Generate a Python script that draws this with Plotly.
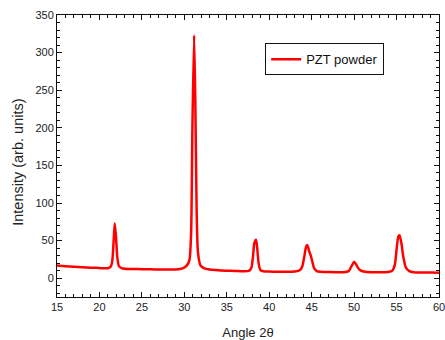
import plotly.graph_objects as go

angle = [15, 16, 17, 18, 19, 20, 21, 21.3, 21.5, 21.65, 21.8, 21.95, 22.1, 22.3, 22.6, 23,
         24, 25, 26, 27, 28, 29, 29.8, 30.3, 30.6, 30.8, 30.95, 31.15, 31.3, 31.45, 31.6,
         31.9, 32.3, 33, 34, 35, 36, 37, 37.6, 37.9, 38.1, 38.25, 38.45, 38.6, 38.75, 38.95,
         39.3, 40, 41, 42, 43, 43.6, 43.9, 44.15, 44.35, 44.5, 44.7, 44.9, 45.1, 45.3, 45.6,
         46, 47, 48, 49, 49.4, 49.7, 49.9, 50.0, 50.2, 50.45, 50.8, 51.3, 52, 53, 54, 54.5,
         54.8, 55.0, 55.2, 55.35, 55.55, 55.8, 56.1, 56.5, 57, 58, 59, 60]
intensity = [16.8, 16.0, 15.3, 14.6, 14.0, 13.5, 13.3, 15, 22, 45, 73, 55, 28, 16, 13.5, 12.6,
             12.2, 12.0, 11.8, 11.6, 11.5, 11.6, 13, 17, 24, 60, 200, 323, 230, 90, 35,
             17, 13.5, 11.5, 10.5, 10.0, 9.6, 9.3, 9.8, 14, 30, 47, 51, 38, 20, 11,
             9.3, 8.8, 8.5, 8.5, 8.8, 10.5, 16, 30, 42, 44, 36, 30, 21, 13, 9.5,
             8.5, 8.2, 8.0, 8.3, 10, 16, 20, 22, 19, 14, 10, 8.5, 8.0, 7.8, 8.2, 10,
             18, 38, 55, 57, 48, 28, 14, 9.5, 8.0, 7.6, 7.5, 7.3]

x_title = "Angle 2θ"
y_title = "Intensity (arb. units)"

fig = go.Figure()
fig.add_trace(go.Scatter(x=angle, y=intensity, mode="lines", name="PZT powder",
                         line=dict(color="#ff0000", width=2.5, shape="spline", smoothing=0.6)))

axis_common = dict(showline=True, linecolor="#111111", linewidth=1, mirror="allticks",
                   ticks="inside", ticklen=5, tickwidth=1, tickcolor="#111111",
                   showgrid=False, zeroline=False, automargin=False,
                   ticklabeloverflow="allow",
                   tickfont=dict(family="Liberation Sans, Arial", size=11, color="#222222"))

fig.update_layout(
    width=445, height=340,
    margin=dict(l=57, r=6, t=15, b=43, autoexpand=False),
    paper_bgcolor="white", plot_bgcolor="white",
    font=dict(family="Liberation Sans, Arial", color="#222222"),
    xaxis=dict(range=[15, 60], dtick=5, tick0=15,
               minor=dict(dtick=1, ticks="inside", ticklen=3, tickcolor="#111111"),
               title=dict(text=x_title, font=dict(size=13)),
               **axis_common),
    yaxis=dict(range=[-25, 350], dtick=50, tick0=0,
               minor=dict(dtick=10, ticks="inside", ticklen=3, tickcolor="#111111"),
               **axis_common),
    legend=dict(x=0.545, y=0.9, xanchor="left", yanchor="top",
                bordercolor="#111111", borderwidth=1, bgcolor="white",
                font=dict(size=13, color="#111111"),
                tracegroupgap=0, itemwidth=30),
    showlegend=True,
    annotations=[dict(text=y_title, textangle=-90, xref="paper", yref="paper",
                      x=-0.102, y=0.476, xanchor="center", yanchor="middle",
                      showarrow=False, font=dict(size=14.5, color="#222222"))],
)

fig.write_html("out.html", config={"displayModeBar": False},
               post_script="document.body.style.margin='0';document.body.style.overflow='hidden';")
